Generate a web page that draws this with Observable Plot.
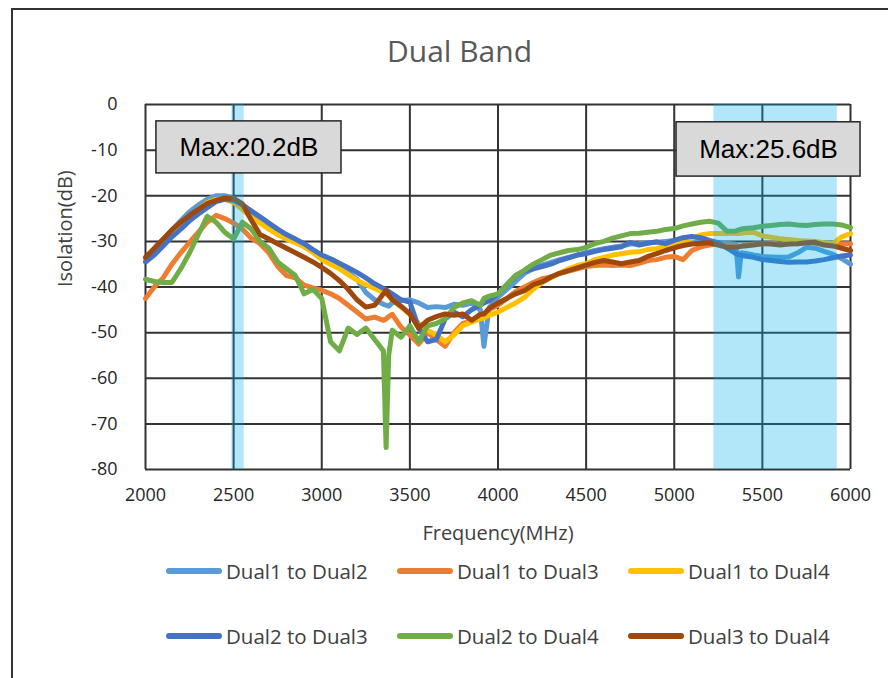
<!DOCTYPE html>
<html><head><meta charset="utf-8">
<script src="https://cdn.jsdelivr.net/npm/d3@7"></script>
<script src="https://cdn.jsdelivr.net/npm/@observablehq/plot@0.6"></script>
<style>
html,body{margin:0;padding:0;background:#fff;overflow:hidden;}
#wrap{position:relative;width:888px;height:678px;overflow:hidden;font-family:"Open Sans",sans-serif;}
#frame{position:absolute;left:11px;top:8px;width:960px;height:760px;border-left:2px solid #333;border-top:2px solid #333;}
#title{position:absolute;left:0;width:919px;top:36px;line-height:30px;text-align:center;font-size:30px;color:#595959;}
#chart{position:absolute;left:0;top:80px;}
.leg{position:absolute;height:30px;display:flex;align-items:center;font-size:20.5px;color:#404040;white-space:nowrap;}
.sw{width:56px;height:6px;border-radius:3px;margin-right:4px;}
</style></head><body>
<div id="wrap">
  <div id="frame"></div>
  <div id="title"></div>
  <div id="chart"></div>
  <div id="legend"></div>
</div>
<script>
const titleText = "Dual Band";
const xLabel = "Frequency(MHz)";
const yLabel = "Isolation(dB)";
const xTicks = [2000,2500,3000,3500,4000,4500,5000,5500,6000];
const yTicks = [0,-10,-20,-30,-40,-50,-60,-70,-80];
const seriesNames = ["Dual1 to Dual2","Dual1 to Dual3","Dual1 to Dual4","Dual2 to Dual3","Dual2 to Dual4","Dual3 to Dual4"];
const seriesColors = ["#5B9BD5","#ED7D31","#FFC000","#4472C4","#70AD47","#9E480E"];

const freq = [2000,2050,2100,2150,2200,2250,2300,2350,2400,2450,
2500,2550,2600,2650,2700,2750,2800,2850,2900,2950,
3000,3050,3100,3150,3200,3250,3300,3350,3365,3380,
3400,3450,3500,3550,3600,3650,3700,3750,3800,3850,
3900,3920,3950,4000,4050,4100,4150,4200,4250,4300,
4350,4400,4450,4500,4550,4600,4650,4700,4750,4800,
4850,4900,4950,5000,5050,5100,5150,5200,5250,5300,
5350,5365,5380,5400,5450,5500,5550,5600,5650,5700,
5750,5800,5850,5900,5950,6000];

const dual1to2 = [-34,-32,-29.8,-27.5,-25.5,-23.5,-22,-20.8,-20,-20,
-20.6,-22,-23.5,-25,-26.5,-28,-29,-30,-31,-32.3,
-33.5,-34.5,-35.5,-36.8,-38.3,-41.2,-42.8,-43.8,-44,-44.2,
-43.5,-43,-42.8,-43.5,-44.5,-44.3,-44.5,-43.8,-44,-43.5,
-45,-53,-44.5,-42.2,-40.5,-38.8,-37,-36,-35.2,-34.6,
-34,-33.5,-33,-32.5,-32,-31.6,-31.3,-31,-30.6,-30.5,
-30.3,-30.2,-30,-29.8,-29.7,-29.8,-30,-30.2,-30.3,-30.4,
-30.6,-37.8,-32.5,-32.6,-33,-33.3,-33.4,-33.5,-33.4,-32.5,
-31.3,-31.5,-32.2,-32.8,-33.8,-35];

const dual1to3 = [-42.5,-40,-38,-35,-32.5,-30.2,-28,-25.8,-24.3,-25,
-26,-27.3,-29.3,-30.5,-32.5,-35.5,-37.5,-38,-39.6,-40.2,
-40.7,-41.5,-42.5,-44,-45.5,-47,-46.6,-47.3,-47,-46.5,
-46,-48.8,-50.5,-52.5,-50,-51.5,-53,-50,-48,-47.5,
-46.5,-46,-45,-44,-42.5,-41,-40,-39,-38.2,-37.8,
-37,-36.5,-36,-35.5,-35.3,-35.2,-35.3,-35.2,-35.3,-34.8,
-34.2,-34,-33.5,-33.3,-34,-32,-31.2,-30.8,-30.6,-30.8,
-31,-31,-31,-30.8,-30.6,-30.5,-30.3,-30.6,-30.2,-30.5,
-30.2,-30.4,-30.6,-30.8,-30.5,-30.5];

const dual1to4 = [-34,-32.5,-30.5,-28.5,-26.5,-24.5,-23,-21.5,-20.8,-20.7,
-21.5,-23,-24.8,-26,-27.3,-28.5,-29.5,-30.3,-31.2,-32.5,
-34,-35,-36,-37.3,-38.5,-39.5,-40.3,-41.2,-41.5,-42,
-42.8,-44.4,-46,-48,-49.5,-50.5,-52,-50.5,-48.5,-47.7,
-47,-46.8,-46.2,-45.5,-44.5,-43.5,-42.3,-40.5,-39,-38,
-37,-36,-35.3,-34.9,-34,-33.5,-33,-32.7,-32.4,-32.3,
-31.8,-31.6,-31,-30.4,-29.8,-29.3,-28.6,-28.3,-28.3,-28.3,
-28.3,-28.3,-28.2,-28.1,-28,-28.8,-29.1,-29.4,-29.6,-29.8,
-29.9,-30,-30.3,-30.5,-29,-28.3];

const dual2to3 = [-34.5,-33,-31,-29,-27.3,-25.5,-24,-22.6,-21.3,-20.8,
-21,-22,-23.3,-24.6,-26,-27.3,-28.5,-29.5,-30.5,-31.8,
-33,-33.8,-34.8,-35.8,-36.8,-38,-39.3,-40.3,-40.6,-41,
-41.5,-42.8,-43.3,-49,-52,-51.5,-47,-45.5,-46.5,-45,
-44,-43.5,-43,-41.5,-39.5,-37.5,-36.5,-36,-35.5,-35,
-34.2,-33.6,-33,-32.7,-32.2,-31.8,-31.5,-31.2,-30.2,-30.8,
-30.4,-30.1,-30.5,-29.8,-29.2,-28.9,-29.2,-29.8,-30.3,-31.5,
-32.7,-32.9,-33,-33.2,-33.5,-34,-34.2,-34.4,-34.6,-34.5,
-34.5,-34.3,-34,-33.6,-33.2,-33];

const dual2to4 = [-38.3,-38.8,-39,-39,-36,-32.5,-28.5,-24.5,-25.8,-28,
-29.5,-25.8,-27.3,-30,-31.5,-34.5,-36,-37.5,-41.5,-40.5,
-42.5,-52,-54,-49,-50.4,-49,-51.5,-54,-75.2,-55,
-49.5,-51,-48.5,-52,-48.5,-48,-47,-44.5,-43.5,-43,
-44,-42.5,-42,-41.5,-39.5,-37.5,-36.3,-35,-34,-33,
-32.5,-32,-31.8,-31.3,-30.5,-30,-29.3,-28.8,-28.3,-28.2,
-28,-27.8,-27.4,-27.2,-26.6,-26.2,-25.8,-25.6,-26,-27.8,
-27.7,-27.5,-27.3,-27.2,-27,-26.7,-26.5,-26.3,-26.2,-26.4,
-26.5,-26.3,-26.2,-26.2,-26.4,-27];

const dual3to4 = [-33.5,-31.5,-29.5,-27.5,-25.8,-24.3,-23,-21.7,-21,-20.5,
-20.6,-21.8,-25.3,-28.5,-29.5,-30.5,-31.5,-32.5,-33.5,-34.5,
-35.7,-37,-38.6,-40.5,-42.8,-44.4,-44,-41.5,-40.8,-41.8,
-42.8,-44.2,-45.9,-49,-47.3,-46.5,-45.9,-46.2,-45.9,-47.3,
-46,-45.9,-44.7,-43.5,-42.5,-41.5,-40.8,-39.5,-38.9,-37.8,
-37,-36.4,-35.8,-35.2,-34.6,-34.2,-34.5,-34.9,-34.5,-34.2,
-33.3,-32.7,-32,-31.4,-30.9,-30.6,-30.4,-30.3,-30.8,-31.3,
-31.3,-31.2,-31.1,-31,-30.8,-30.5,-30.6,-30.8,-30.6,-30.5,
-30.3,-30.2,-30.8,-31,-31.5,-32];

const seriesValues = [dual1to2, dual1to3, dual1to4, dual2to3, dual2to4, dual3to4];

const bandsMHz = [{x1:2490, x2:2560}, {x1:5225, x2:5925}];
const notes = [
  {label:"Max:20.2dB", x1:2062, x2:3112, y1:-3.7, y2:-15.1},
  {label:"Max:25.6dB", x1:5013, x2:6057, y1:-3.9, y2:-15.8}
];

const rows = [];
seriesNames.forEach((s, k) => {
  freq.forEach((f, i) => rows.push({s, f, v: seriesValues[k][i]}));
});

document.getElementById("title").textContent = titleText;

const chart = Plot.plot({
  width: 888, height: 460,
  marginLeft: 145, marginRight: 38, marginTop: 24, marginBottom: 71,
  style: {fontFamily: "Open Sans", background: "transparent", overflow: "visible"},
  x: {domain: [2000, 6000]},
  y: {domain: [-80, 0]},
  color: {domain: seriesNames, range: seriesColors},
  marks: [
    Plot.ruleX(xTicks, {stroke: "#333", strokeWidth: 2}),
    Plot.ruleY(yTicks, {stroke: "#333", strokeWidth: 2}),
    Plot.line(rows, {x: "f", y: "v", stroke: "s", strokeWidth: 5, strokeLinejoin: "round", strokeLinecap: "round"}),
    Plot.rect(bandsMHz, {x1: "x1", x2: "x2", fill: "#00B0F0", fillOpacity: 0.3}),
    Plot.rect(notes, {x1: "x1", x2: "x2", y1: "y1", y2: "y2", fill: "#D9D9D9", stroke: "#262626", strokeWidth: 1.5}),
    Plot.text(notes, {x: d => (d.x1 + d.x2) / 2, y: d => (d.y1 + d.y2) / 2, text: "label", fontSize: 26, fontFamily: "Liberation Sans", fill: "#000"}),
    Plot.axisX({ticks: xTicks, tickSize: 0, tickPadding: 19, tickFormat: d => String(d), label: null, fontSize: 18, fill: "#262626"}),
    Plot.axisY({ticks: yTicks, tickSize: 0, tickPadding: 28, tickFormat: d => String(d), label: null, fontSize: 18, fill: "#262626"}),
    Plot.text([yLabel], {frameAnchor: "left", dx: -80, rotate: -90, text: d => d, fontSize: 20, fill: "#404040"}),
    Plot.text([xLabel], {frameAnchor: "bottom", dy: 70, text: d => d, fontSize: 20, fill: "#404040"})
  ]
});
document.getElementById("chart").appendChild(chart);

const legendPos = [[166,556],[397,556],[628,556],[166,621],[397,621],[628,621]];
const leg = document.getElementById("legend");
seriesNames.forEach((s, k) => {
  const item = document.createElement("div");
  item.className = "leg";
  item.style.left = legendPos[k][0] + "px";
  item.style.top = legendPos[k][1] + "px";
  const sw = document.createElement("div");
  sw.className = "sw";
  sw.style.background = seriesColors[k];
  const t = document.createElement("span");
  t.textContent = s;
  item.appendChild(sw); item.appendChild(t);
  leg.appendChild(item);
});
</script>
</body></html>
